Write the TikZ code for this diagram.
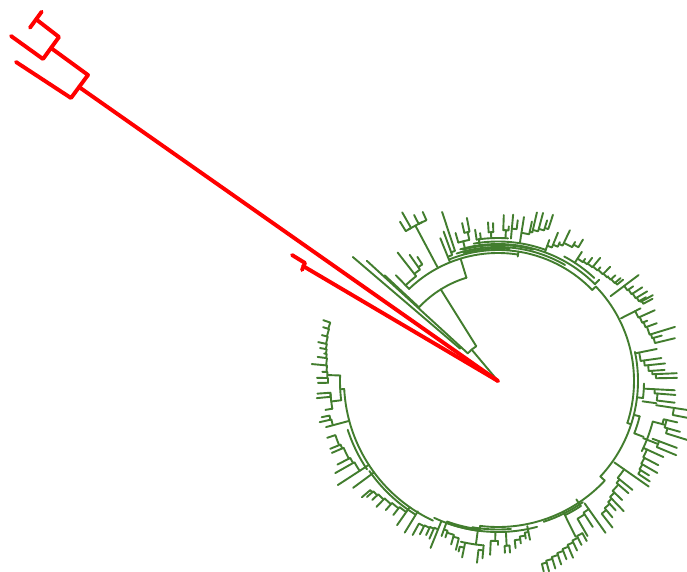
\documentclass[tikz,border=0pt]{standalone}
\definecolor{gr}{RGB}{66,125,46}
\tikzset{g/.style={draw=gr,line width=1.9pt,line cap=round,line join=round},
 redl/.style={draw=red,line width=3.9pt,line cap=round,line join=round}}
\newcommand\Comb[4]{\foreach \a/\t [count=\i, remember=\a as \pa (initially 0)] in {#4} {%
  \pgfmathsetmacro\rr{#2+(\i-1)*#3}%
  \pgfmathsetmacro\rp{\rr-#3}%
  \ifnum\i=1 \draw[g] (\a:#1) -- (\a:\t);%
  \else \draw[g] (\pa:\rp) arc[start angle=\pa,end angle=\a,radius=\rp] -- (\a:\t);\fi}}
\newcommand\Arc[3]{\draw[g] (#2:#1) arc[start angle=#2,end angle=#3,radius=#1];}
\newcommand\Rad[3]{\draw[g] (#1:#2) -- (#1:#3);}
\begin{document}
\begin{tikzpicture}[x=1pt,y=1pt]
\fill[white] (0,0) rectangle (687,571);
\useasboundingbox (0,0) rectangle (687,571);
\begin{scope}[shift={(498,190)}]
% root
\Rad{130}{0}{41}\Arc{41}{138}{122}
\Rad{137.5}{41}{178}\Arc{50}{137.5}{139.5}\Rad{139.5}{50}{191}
\Rad{122}{41}{108}\Arc{108}{137}{107}\Rad{137}{108}{155}\Rad{107}{108}{127}
\Arc{128}{134}{81}\Rad{81}{126}{131}
% A
\Comb{128}{133}{3}{134/147,128/163,125/154,123/148}
% B
\Rad{118}{129}{176}\Arc{176}{120.6}{115.4}
\Comb{176}{176}{0}{121.6/187,119.6/194}\Comb{176}{176}{0}{116.8/186,114/185}
% C
\Comb{129}{134}{3}{112/154,110/159,108.3/178}
% top
\Arc{131}{112}{44}\Rad{44}{131}{136}
\Arc{137}{106}{45}\Rad{45}{137}{143}
\Arc{134}{108}{60}\Arc{139.5}{100}{70}
\Arc{136}{105}{75}\Arc{132.5}{105}{85}\Arc{141}{62}{47}
\Rad{104}{134}{144}\Arc{144}{106}{101.5}\Rad{106}{144}{154}\Rad{101.5}{144}{152}
\Comb{152}{152}{0}{102.8/162,100.8/166}
\Rad{97.7}{137}{143}\Arc{143}{97.7}{86}
\Comb{143}{143}{0}{98.6/153,96.9/149}
\Rad{92.7}{143}{149}\Comb{149}{149}{0}{93.6/159,91.8/158}
\Rad{87}{143}{151}\Comb{151}{151}{0}{88/166,86/155}
\Comb{143}{153}{0}{84.8/167,83/162}
\Comb{140}{150}{2.5}{81/166,78/163,77/173,75/174,73/168,71.7/175}
\Comb{137}{144}{3}{70/150,68/160,66/152,64.5/167,61/159,59/165}
\Comb{141}{146}{0.9}{57/154,54.5/150,52.6/155,50.3/160,48/153,45.5/160,43.5/152,42/158,40/160,39/161}
% right
\Arc{136}{44}{-18}\Rad{-18}{136}{140}
\Comb{141}{158}{1.3}{37/176,35/165,33/172,31/174,29.5/170,29/177,28/175}
\Rad{27}{138}{154}\Comb{154}{154}{1.5}{27/160,24.3/172,22/161,20/169,17/185,15.5/170,13.6/182}
\Arc{140}{12}{-43}\Rad{-43}{140}{146}
\Comb{140}{144}{3.5}{11.4/162,8/165,6/168,3.8/167,2.5/179,1/179}
\Rad{-6.7}{140}{146}\Comb{146}{157}{3}{-3/177,-4.5/178,-7/178}
\Comb{160}{178}{0}{-8.7/194,-11/193}\Arc{146}{-6.7}{-1}\Rad{-8}{146}{160}
\Arc{146}{-14}{-21}\Rad{-14}{140}{146}\Rad{-21}{146}{156}
\Arc{160}{-14.7}{-26}
\Comb{160}{170}{3}{-14.7/172,-13/184,-15.6/189,-17.3/198}
\Comb{165}{172}{0}{-20.5/191,-22.6/193}\Rad{-21.5}{156}{172}
\Comb{160}{164}{1.4}{-24.7/182,-27.7/181,-30/184,-32/178,-33.5/182}
\Comb{142}{154}{2.4}{-35/184,-39/173,-40.7/172,-43.8/172,-46/181,-47.7/175,-50/178,-52/186}
% K
\Arc{150}{-56.5}{-63.5}\Rad{-56.5}{142}{150}
\Comb{150}{157}{2}{-54.7/186,-57/174,-60/179}
\Rad{-63.5}{146}{174}
\Comb{174}{174}{2}{-61/183,-63/184,-65/187,-67/192,-69/191,-71/194,-73/196,-75/197,-76.5/196}
% bottom
\Arc{146}{-43}{-97}\Rad{-97}{146}{151}
\Arc{148}{-55}{-72}\Arc{148.5}{-85}{-100}
\Arc{151}{-75}{-115}\Arc{149.5}{-97}{-110}
\Comb{148}{154}{3}{-78.6/162,-80/160,-82/164,-84/168}
\Rad{-87}{151}{165}\Comb{165}{165}{0}{-86/172,-87.7/172}
\Rad{-91}{151}{160}\Comb{160}{160}{0}{-90/164,-92.6/174}
\Rad{-97.7}{151}{165}\Arc{165}{-95}{-103}
\Comb{165}{170}{0}{-95/178,-96.6/183}\Comb{165}{170}{0}{-101.5/180,-103/175}
\Arc{151}{-97}{-110}
\Comb{151}{158}{2}{-110/165,-108.6/165,-106/170,-104/174}
\Rad{-112}{151}{160}
\Comb{160}{160}{1}{-112/180,-113.5/172,-115/170,-117/172,-119/176}
\Arc{154}{-115}{-177}\Rad{-121.6}{153}{178}
\Arc{157}{-122}{-145}\Arc{158}{-146}{-162}
\Comb{154}{160}{1.6}{-125/176,-128/170,-131/171,-134/175,-136.6/173,-138.5/175,-139.5/179}
\Rad{-143.6}{154}{180}
\Comb{154}{165}{1.6}{-147/191,-150.5/187,-152.5/181,-156.6/181,-158/181,-161.6/180}
\Comb{154}{171}{1}{-165/178,-167/183,-168.4/180}
% left
\Rad{-177}{154}{158}\Arc{158}{178}{187}
\Rad{187}{158}{168}\Comb{168}{168}{0}{189.5/175,184/181,185.4/182}
\Rad{178}{158}{170}
\Comb{170}{170}{0.85}{180.6/180,179/181,177/176,174.8/187,172.4/182,171/176,169.5/181,167.8/184,165.4/182,162.9/183,160.8/185}
\end{scope}
% red
\begin{scope}[yscale=-1,yshift=-571pt]
\coordinate (o) at (498,381);
\coordinate (r1) at (79,87);
\coordinate (r2) at (51,48);
\draw[redl] (o) -- (r1);
\draw[redl] (16,62) -- (71,98) -- (88,75) -- (51,48);
\draw[redl] (11,36) -- (43,59) -- (59,37) -- (37,20);
\draw[redl] (41.7,11.7) -- (30,27.7);
\draw[redl] (o) -- (303,266);
\draw[redl] (292,255) -- (305,263) -- (302,270);
\end{scope}
\end{tikzpicture}
\end{document}
